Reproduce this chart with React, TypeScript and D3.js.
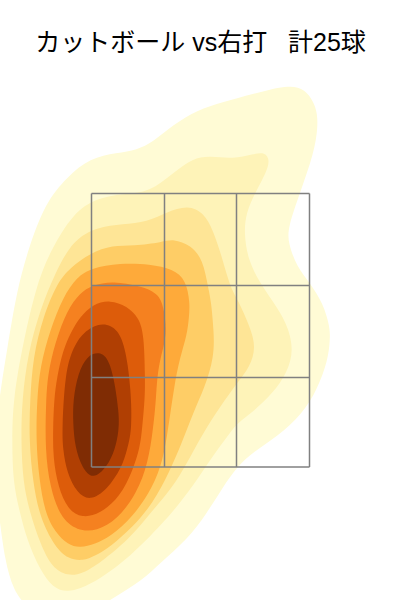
import React from "react";
import * as d3 from "d3";

const title = "カットボール vs右打   計25球";
const zoneX = [91.5, 164.5, 236.5, 309.5];
const zoneY = [193.5, 285.5, 377.5, 467];

const level1 = [[-8,460],[0,393],[7,350],[17,290],[28,250],[45,203],[67,177],[90,158],[117,153],[137,150],[153,142],[173,125],[197,110],[223,102],[253,94],[287,85],[305,88],[317,107],[318,127],[314,153],[300,193],[288,227],[288,243],[297,267],[310,283],[323,303],[330,327],[330,340],[328,360],[317,390],[303,413],[277,437],[253,452],[237,467],[223,487],[207,513],[187,540],[160,563],[143,580],[110,600],[70,625],[28,610],[13,590],[5,560],[0,523]];
const level2 = [[13,400],[23,343],[37,283],[51,250],[73,213],[97,198],[123,194],[150,192],[173,173],[193,158],[210,156],[233,159],[253,154],[265,152],[270,160],[266,173],[255,193],[246,213],[244,233],[248,260],[260,283],[272,300],[287,323],[294,350],[287,373],[273,393],[253,412],[237,423],[227,437],[210,460],[197,480],[180,503],[163,523],[130,557],[100,579],[80,589],[67,592],[53,588],[40,570],[27,540],[20,513],[13,483],[12,440]];
const level3 = [[22,400],[28,353],[40,310],[55,273],[73,240],[97,227],[123,224],[147,222],[167,212],[188,205],[204,213],[213,230],[222,257],[230,287],[238,300],[250,327],[256,347],[250,367],[237,383],[220,407],[203,433],[187,463],[173,487],[147,517],[130,538],[100,563],[82,574],[68,576],[52,568],[40,543],[30,513],[23,483],[21,440]];
const level4 = [[30,400],[33,357],[43,317],[57,283],[70,268],[90,253],[113,245],[133,246],[163,242],[173,239],[191,245],[203,260],[208,287],[211,300],[214,333],[214,357],[205,387],[193,413],[183,440],[169,473],[153,503],[133,527],[110,547],[95,556],[83,561],[68,559],[55,547],[40,518],[33,483],[29,440]];
const level5 = [[37,400],[40,367],[50,330],[63,297],[77,277],[91,268],[120,263],[150,264],[173,269],[186,280],[190,303],[189,317],[187,335],[180,357],[174,387],[168,430],[163,460],[153,487],[133,517],[110,537],[95,544],[80,548],[68,545],[55,532],[45,513],[39,478],[36,440]];
const level6 = [[46,400],[48,373],[55,343],[67,310],[80,293],[92,285],[113,281],[140,286],[158,293],[164,307],[167,335],[161,355],[157,377],[156,400],[153,430],[148,463],[137,493],[117,520],[97,531],[77,531],[60,517],[50,487],[45,450]];
const level7 = [[54,400],[57,377],[63,350],[71,332],[80,317],[93,304],[110,300],[127,306],[139,318],[144,335],[145,377],[145,397],[142,430],[140,447],[133,470],[120,497],[100,514],[82,518],[68,510],[58,487],[53,457],[53,430]];
const level8 = [[62,430],[65,373],[73,347],[85,330],[103,322],[118,329],[126,350],[131,390],[132,430],[127,450],[122,467],[107,490],[90,501],[77,493],[67,473],[63,450]];
const level9 = [[98,352],[107,356],[114,377],[119,413],[119,430],[115,450],[107,467],[93,480],[82,468],[75,447],[73,423],[73,400],[78,373],[87,356]];

const levels = [level1, level2, level3, level4, level5, level6, level7, level8, level9];
const levelColors = ["#FFFBD5", "#FEF3B8", "#FEE596", "#FECD66", "#FEAA3A", "#F58120", "#DD5C0A", "#B03F03", "#7F2C04"];

export default function App() {
  const width = 400;
  const height = 600;
  const x = d3.scaleLinear().domain([0, 400]).range([0, width]);
  const y = d3.scaleLinear().domain([0, 600]).range([0, height]);
  const line = d3
    .line<number[]>()
    .x((d) => x(d[0]))
    .y((d) => y(d[1]))
    .curve(d3.curveBasisClosed);

  const xMin = zoneX[0];
  const xMax = zoneX[zoneX.length - 1];
  const yMin = zoneY[0];
  const yMax = zoneY[zoneY.length - 1];

  return (
    <svg
      width={width}
      height={height}
      style={{ position: "fixed", left: 0, top: 0, background: "#fff" }}
    >
      {levels.map((pts, i) => (
        <path key={i} d={line(pts) ?? ""} fill={levelColors[i]} stroke="none" />
      ))}
      <g stroke="#808080" strokeWidth={1.5} fill="none">
        {zoneX.map((v) => (
          <line key={"v" + v} x1={x(v)} x2={x(v)} y1={y(yMin)} y2={y(yMax)} />
        ))}
        {zoneY.map((v) => (
          <line key={"h" + v} x1={x(xMin)} x2={x(xMax)} y1={y(v)} y2={y(v)} />
        ))}
      </g>
      <text
        x={200.5}
        y={51}
        textAnchor="middle"
        fontSize={25}
        fill="#000"
        xmlSpace="preserve"
        style={{ whiteSpace: "pre", fontFamily: "'Liberation Sans','Noto Sans CJK JP',sans-serif" }}
      >
        {title}
      </text>
    </svg>
  );
}
